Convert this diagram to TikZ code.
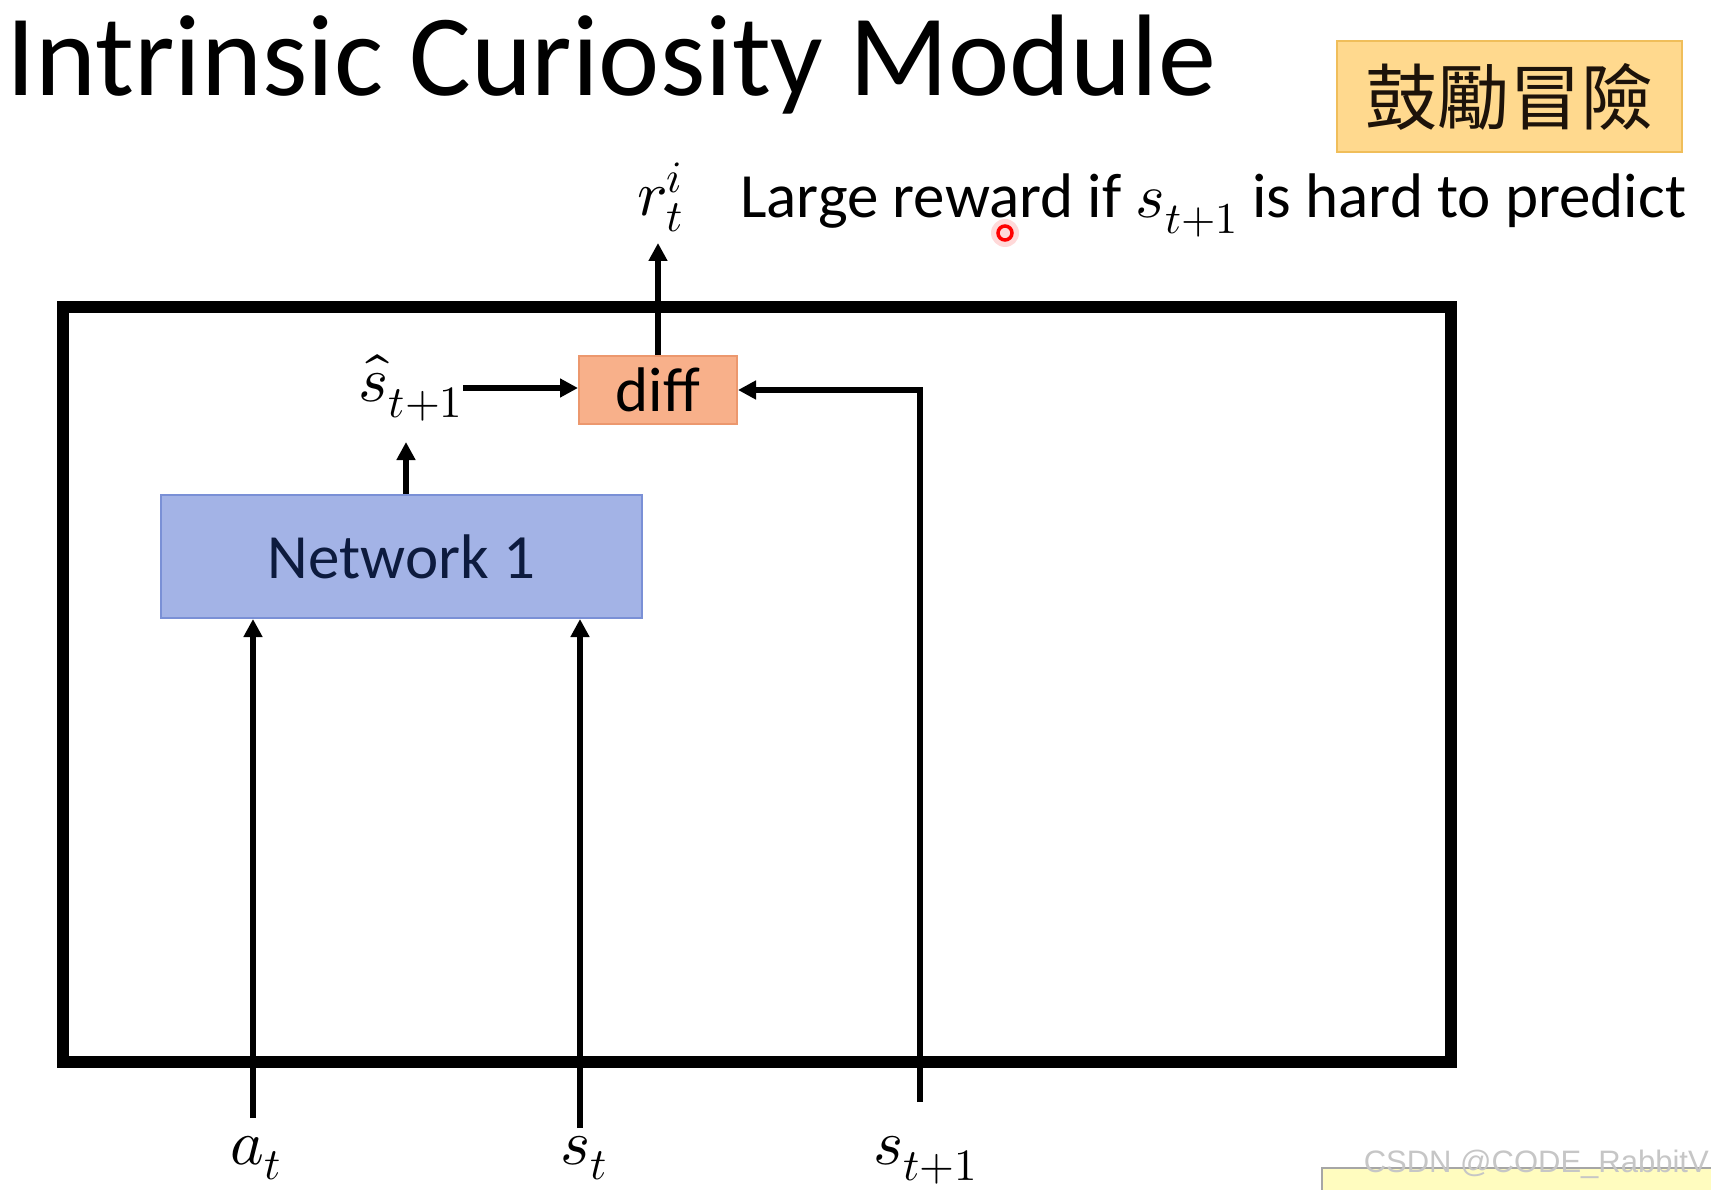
\documentclass[tikz,border=0pt]{standalone}
\usepackage{fontspec}
\usepackage{unicode-math}
\setmainfont{Carlito}
\setmathfont{Latin Modern Math}
\newfontfamily\cjk{Noto Sans CJK TC}
\newfontfamily\wmfont{Liberation Sans}
\usepackage{tikz}
\usetikzlibrary{arrows.meta}
\definecolor{tagfill}{RGB}{255,217,142}
\definecolor{tagline}{RGB}{240,190,90}
\definecolor{difffill}{RGB}{248,176,138}
\definecolor{diffline}{RGB}{236,152,110}
\definecolor{netfill}{RGB}{163,179,230}
\definecolor{netline}{RGB}{122,144,214}
\definecolor{nettext}{RGB}{13,27,62}

\begin{document}
\begin{tikzpicture}[x=1pt, y=-1pt,
    arr/.style={line width=5.5pt, -{Triangle[length=18pt,width=18pt]}},
    lbl/.style={inner sep=0pt, font=\fontsize{64}{70}\selectfont},
    txt/.style={inner sep=0pt, font=\fontsize{63}{70}\selectfont}]
    \useasboundingbox (0,0) rectangle (1711,1190);
    \node[anchor=base west, inner sep=0pt, font=\fontsize{116}{120}\selectfont] (title) at (6,96) {Intrinsic Curiosity Module};
    \node[fill=tagfill, draw=tagline, line width=2pt, minimum width=345, minimum height=111, inner sep=0pt, font=\cjk\fontsize{72}{72}\selectfont, text=black!85!brown] (tag) at (1509,97) {鼓勵冒險};
    \node[draw, line width=12pt, minimum width=1388, minimum height=755, inner sep=0pt] (frame) at (757,684.5) {};
    \node[fill=netfill, draw=netline, line width=2pt, minimum width=481, minimum height=123, inner sep=0pt, txt, text=nettext] (net) at (401.5,556.5) {Network 1};
    \node[fill=difffill, draw=diffline, line width=2pt, minimum width=158, minimum height=68, inner sep=0pt, txt] (diff) at (658,390) {diff};
    \node[lbl, anchor=east] (shat) at (463,388) {$\hat{s}_{t+1}$};
    \node[lbl] (rew) at (660,197) {$r_t^i$};
    \node[txt, anchor=base west] (note) at (740,218) {Large reward if $s_{t+1}$ is hard to predict};
    \node[lbl] (at) at (256,1158) {$a_t$};
    \node[lbl] (st) at (584,1158) {$s_t$};
    \node[lbl] (stn) at (925,1160) {$s_{t+1}$};
    \coordinate (atfoot) at (253,1118);
    \coordinate (stfoot) at (580,1128);
    \coordinate (stnfoot) at (920,1102);
    \coordinate (shatfoot) at (406,442);
    \coordinate (rewfoot) at (660,243);
    \draw[arr] (atfoot) -- (atfoot |- net.south);
    \draw[arr] (stfoot) -- (stfoot |- net.south);
    \draw[arr] (stnfoot) |- (diff.east);
    \draw[arr] (net.north -| shatfoot) -- (shatfoot);
    \draw[arr] (shat.east) -- (shat.east -| diff.west);
    \draw[arr] (diff.north) -- (diff.north |- rewfoot);
    \fill[red!25, opacity=0.6] (1005,233) circle (14);
    \draw[red, line width=3.5pt] (1005,233) circle (7);
    \draw[fill=yellow!25, draw=gray!70, line width=1.5pt] (1322,1168) rectangle (1730,1210);
    \node[anchor=base east, inner sep=0pt, font=\wmfont\fontsize{31}{31}\selectfont, text=gray!45] (wm) at (1709,1172) {CSDN @CODE\_RabbitV};
\end{tikzpicture}
\end{document}
